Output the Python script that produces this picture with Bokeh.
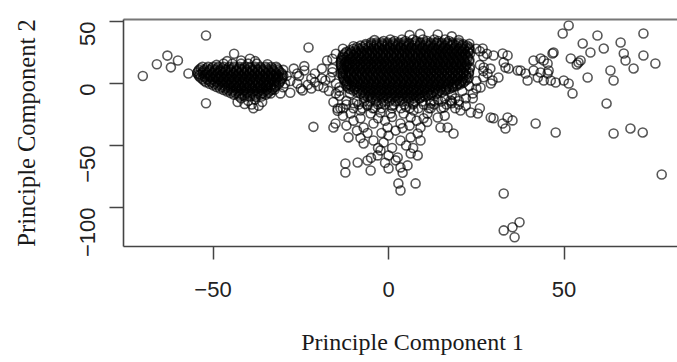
import math
from bokeh.plotting import figure
from bokeh.models import FixedTicker, LinearAxis, Range1d
from bokeh.embed import file_html
from bokeh.resources import INLINE

# ---- principal component scores, grouped by region of the score plot ----

# isolated scores left of the left group
left_tail_pc1 = [-70, -66, -63, -62, -60, -57, -52, -52, -44, -46, -42, -39.5, -38, -34.5, -49]
left_tail_pc2 = [6, 15.5, 22.5, 13, 18.5, 8, 38.7, -16, 24, 18, 18.5, 20, 18, 15.5, 15]

# dense left group: PC2 level -> PC1 scores on that level
left_group_rows = {
    16: [-47, -44.5, -42, -40, -37.5],
    13.5: [-53, -51.4, -50, -48.5, -47, -45.4, -44, -42.5, -41, -39.4, -38, -36.5, -35, -33.4, -32],
    12.25: [-53.5, -51.8, -50.3, -48.7, -47.2, -45.6, -44.1, -42.5, -41, -39.4, -37.9, -36.3, -34.8,
            -33.2, -31.7],
    11: [-54, -52.5, -51, -49.4, -48, -46.5, -45, -43.4, -42, -40.5, -39, -37.4, -36, -34.5, -33, -31.4],
    9.75: [-54.3, -52.8, -51.2, -49.7, -48.1, -46.6, -45, -43.5, -41.9, -40.4, -38.8, -37.3, -35.7,
           -34.2, -32.6, -31.1],
    8.5: [-54.5, -53, -51.6, -50, -48.5, -47, -45.4, -44, -42.5, -41, -39.4, -38, -36.5, -35, -33.4,
          -32, -30.5],
    7.25: [-54.2, -53.7, -52.1, -50.6, -49, -47.5, -45.9, -44.4, -42.8, -41.3, -39.7, -38.2, -36.6,
           -35.1, -33.5, -32, -30.3],
    6: [-54, -52.5, -51, -49.4, -48, -46.5, -45, -43.4, -42, -40.5, -39, -37.4, -36, -34.5, -33,
        -31.4, -30],
    4.75: [-53.6, -52.2, -50.7, -49.1, -47.6, -46, -44.5, -42.9, -41.4, -39.8, -38.3, -36.7, -35.2,
           -33.6, -32.1, -30.3],
    3.5: [-53, -51.6, -50, -48.5, -47, -45.4, -44, -42.5, -41, -39.4, -38, -36.5, -35, -33.4, -32, -30.5],
    2.25: [-52.5, -51, -49.5, -47.9, -46.4, -44.8, -43.3, -41.7, -40.2, -38.6, -37.1, -35.5, -34,
           -32.4, -30.8],
    1: [-52, -50.5, -49, -47.4, -46, -44.5, -43, -41.4, -40, -38.5, -37, -35.4, -34, -32.5, -31],
    -0.25: [-51, -49.6, -48.1, -46.5, -45, -43.4, -41.9, -40.3, -38.8, -37.2, -35.7, -34.1, -32.6, -31.3],
    -1.5: [-50, -48.6, -47, -45.5, -44, -42.4, -41, -39.5, -38, -36.4, -35, -33.5, -32],
    -2.75: [-49, -47.4, -45.9, -44.3, -42.8, -41.2, -39.7, -38.1, -36.6, -35, -33.5, -32.3],
    -4: [-48, -46.5, -45, -43.4, -42, -40.5, -39, -37.4, -36, -34.5, -33],
    -5.25: [-47, -45.6, -44.1, -42.5, -41, -39.4, -37.9, -36.3, -34.8, -33.4],
    -6.5: [-46, -44.5, -43, -41.4, -40, -38.5, -37, -35.4, -34],
    -7.75: [-45, -43.6, -42.1, -40.5, -39, -37.4, -35.9, -34.4],
    -9: [-44, -42.5, -41, -39.4, -38, -36.5, -35],
    -10.5: [-42.5, -41, -39.4, -37.8, -36.2],
}
left_lobe_pc1 = [-42, -40, -38, -39, -41, -37, -43, -36, -38.5]
left_lobe_pc2 = [-12, -14, -13, -17, -16.5, -18, -15, -15, -20]

# scores bridging the left group and the main group
bridge_pc1 = [-31.6, -30.8, -30, -28, -27, -26, -25, -24.5, -24, -22, -22, -22.8, -21.4, -19, -18.5,
              -17.5, -16.5, -15.7, -15, -15.7, -14.5, -14, -13.7, -13.7, -11.7, -34.5, -33.6, -29,
              -28, -26, -23, -21, -20, -19, -17, -16, -24, -30, -18, -21, -25.5, -29.5, -32.5]
bridge_pc2 = [4.8, -8, -3, -7.5, 12, 0, -4, -5.6, 10.5, 4, -4, 29, -35, 4, -3.2,
              18.5, 4.8, -35.5, -8, -15, -22, -3, -20, 8, 16, -1.6, -8, 6,
              2, 8, -1, 8, -2, 12, -6, 9, 14, 11, 2.4, 1, 6, 0, -5]

# dense main group: PC2 level -> PC1 scores on that level
main_group_rows = {
    35.5: [0.5, 3.8, 6.9, 9.8, 13, 16.1],
    34.25: [-1.4, 1.7, 4.8, 7.9, 11, 14.1, 17.2],
    33: [-5, -3.4, -2, -0.3, 1.2, 2.9, 4.3, 5.8, 7.5, 9, 10.6, 12, 13.7, 15.1, 16.8, 18.2, 20],
    31.75: [-6.5, -4.9, -3.4, -1.8, -0.3, 1.3, 2.8, 4.4, 5.9, 7.5, 9, 10.6, 12.1, 13.7, 15.2, 16.8,
            18.3, 19.9, 21.2],
    30.5: [-8, -6.6, -5, -3.5, -1.9, -0.4, 1.1, 2.6, 4.2, 5.6, 7.1, 8.8, 10.2, 11.7, 13.3, 14.8,
           16.2, 17.9, 19.3, 21, 22.4],
    29.25: [-9, -7.4, -5.9, -4.3, -2.8, -1.2, 0.3, 1.9, 3.4, 5, 6.5, 8.1, 9.6, 11.2, 12.7, 14.3,
            15.8, 17.4, 18.9, 20.5, 22, 23],
    28: [-10, -8.5, -7.1, -5.6, -4, -2.6, -1, 0.4, 2, 3.5, 4.9, 6.5, 8, 9.6, 11, 12.5, 14.1, 15.5,
         17, 18.6, 20.1, 21.5, 23],
    26.75: [-11, -9.4, -7.9, -6.3, -4.8, -3.2, -1.7, -0.1, 1.4, 3, 4.5, 6.1, 7.6, 9.2, 10.7, 12.3,
            13.8, 15.4, 16.9, 18.5, 20, 21.6, 23.1],
    25.5: [-12, -10.6, -9.1, -7.5, -6, -4.6, -3, -1.5, 0, 1.6, 3, 4.5, 6.1, 7.6, 9.1, 10.5, 12.2,
           13.6, 15.1, 16.7, 18.2, 19.6, 21.1, 22.7],
    24.25: [-12.4, -10.9, -9.3, -7.8, -6.2, -4.7, -3.1, -1.6, 0, 1.5, 3.1, 4.6, 6.2, 7.7, 9.3, 10.8,
            12.4, 13.9, 15.5, 17, 18.6, 20.1, 21.7, 23.2],
    23: [-13, -11.4, -10, -8.4, -6.9, -5.3, -3.8, -2.2, -0.8, 0.8, 2.3, 3.8, 5.3, 6.8, 8.4, 9.9,
         11.4, 12.9, 14.5, 15.9, 17.4, 19, 20.5, 22],
    21.75: [-13, -11.6, -10.1, -8.5, -7, -5.4, -3.9, -2.3, -0.8, 0.8, 2.3, 3.9, 5.4, 7, 8.5, 10.1,
            11.6, 13.2, 14.7, 16.3, 17.8, 19.4, 20.9, 22.5],
    20.5: [-13.3, -12, -10.5, -9, -7.6, -6, -4.5, -3, -1.4, 0, 1.5, 3.1, 4.6, 6, 7.7, 9.2, 10.6,
           12.1, 13.7, 15.2, 16.6, 18.2, 19.7, 21.2, 22.6],
    19.25: [-13.4, -12.6, -11.1, -9.5, -8, -6.4, -4.9, -3.3, -1.8, -0.2, 1.3, 2.9, 4.4, 6, 7.5, 9.1,
            10.6, 12.2, 13.7, 15.3, 16.8, 18.4, 19.9, 21.5, 23],
    18: [-13.5, -12, -10.3, -8.8, -7.2, -5.8, -4.2, -2.7, -1.2, 0.3, 1.9, 3.4, 4.9, 6.4, 7.9, 9.5,
         11, 12.4, 14, 15.5, 17, 18.5, 20, 21.6, 23],
    16.75: [-13.6, -12.3, -10.7, -9.2, -7.6, -6.1, -4.5, -3, -1.4, 0.1, 1.7, 3.2, 4.8, 6.3, 7.9, 9.4,
            11, 12.5, 14.1, 15.6, 17.2, 18.7, 20.3, 21.8],
    15.5: [-13.6, -12.6, -11.1, -9.6, -8, -6.5, -5, -3.4, -2, -0.5, 1.1, 2.6, 4.1, 5.7, 7.2, 8.7,
           10.2, 11.8, 13.2, 14.7, 16.3, 17.8, 19.3, 20.8, 22.3],
    14.25: [-13.5, -12, -10.5, -9, -7.4, -5.9, -4.3, -2.8, -1.2, 0.3, 1.9, 3.4, 5, 6.5, 8.1, 9.6,
            11.2, 12.7, 14.3, 15.8, 17.4, 18.9, 20.5, 22],
    13: [-13.4, -11.8, -10.3, -8.7, -7.3, -5.7, -4.2, -2.6, -1.1, 0.4, 1.9, 3.5, 5, 6.5, 8, 9.5,
         11.1, 12.6, 14.1, 15.6, 17.1, 18.7, 20.2, 21.7, 23.2],
    11.75: [-13.2, -12.6, -11, -9.5, -7.9, -6.4, -4.8, -3.3, -1.7, -0.2, 1.4, 2.9, 4.5, 6, 7.6, 9.1,
            10.7, 12.2, 13.8, 15.3, 16.9, 18.4, 20, 21.5, 23.1],
    10.5: [-13, -11.5, -10, -8.4, -6.9, -5.3, -3.9, -2.3, -0.8, 0.7, 2.2, 3.8, 5.3, 6.8, 8.3, 9.9,
           11.4, 12.9, 14.4, 15.9, 17.5, 19, 20.5, 22],
    9.25: [-13, -11.2, -9.7, -8.1, -6.6, -5, -3.5, -1.9, -0.4, 1.2, 2.7, 4.3, 5.8, 7.4, 8.9, 10.5,
           12, 13.6, 15.1, 16.7, 18.2, 19.8, 21.3, 22.9],
    8: [-13.2, -12.3, -10.8, -9.2, -7.7, -6.1, -4.6, -3.1, -1.5, 0, 1.5, 3, 4.6, 6.1, 7.6, 9.2,
        10.7, 12.2, 13.7, 15.3, 16.8, 18.3, 19.8, 21.4, 22.9],
    6.75: [-13, -12.1, -10.6, -9, -7.5, -5.9, -4.4, -2.8, -1.3, 0.3, 1.8, 3.4, 4.9, 6.5, 8, 9.6,
           11.1, 12.7, 14.2, 15.8, 17.3, 18.9, 20.4, 22],
    5.5: [-13, -11.5, -9.9, -8.4, -6.8, -5.3, -3.8, -2.2, -0.7, 0.8, 2.3, 3.9, 5.4, 6.9, 8.5, 10,
          11.5, 13, 14.6, 16.1, 17.6, 19.1, 20.7, 22.2],
    4.25: [-12.8, -11.3, -9.8, -8.2, -6.7, -5.1, -3.6, -2, -0.5, 1.1, 2.6, 4.2, 5.7, 7.3, 8.8, 10.4,
           11.9, 13.5, 15, 16.6, 18.1, 19.7, 21.2, 22.8],
    3: [-12.6, -11, -9.6, -8, -6.5, -5, -3.4, -1.9, -0.4, 1.2, 2.7, 4.2, 5.7, 7.3, 8.8, 10.3,
        11.9, 13.4, 14.9, 16.4, 18, 19.5, 21, 22.3],
    1.75: [-12.3, -11.7, -10.2, -8.6, -7.1, -5.5, -4, -2.4, -0.9, 0.7, 2.2, 3.8, 5.3, 6.9, 8.4, 10,
           11.5, 13.1, 14.6, 16.2, 17.7, 19.3, 20.8, 21.7],
    0.5: [-12, -10.4, -8.9, -7.3, -5.8, -4.3, -2.7, -1.2, 0.3, 1.9, 3.4, 4.9, 6.4, 8, 9.5, 11,
          12.6, 14.1, 15.6, 17.1, 18.7, 20.2, 21.3],
    -0.75: [-12, -11.2, -9.7, -8.1, -6.6, -5, -3.5, -1.9, -0.4, 1.2, 2.7, 4.3, 5.8, 7.4, 8.9, 10.5,
            12, 13.6, 15.1, 16.7, 18.2, 19.6, 20.3],
    -2: [-12, -10.6, -9.1, -7.6, -6, -4.5, -3, -1.5, 0.1, 1.6, 3.1, 4.6, 6.2, 7.7, 9.2, 10.8,
         12.3, 13.8, 15.4, 16.9, 18.4, 19.4],
    -3.25: [-11.5, -9.9, -8.4, -6.8, -5.3, -3.7, -2.2, -0.6, 0.9, 2.5, 4, 5.6, 7.1, 8.7, 10.2, 11.8,
            13.3, 14.9, 16.4, 18, 18.4],
    -4.5: [-11, -9.5, -8, -6.4, -4.9, -3.4, -1.8, -0.3, 1.2, 2.8, 4.3, 5.8, 7.3, 8.9, 10.4, 11.9,
           13.5, 15, 16.5, 17.3],
    -5.75: [-10, -8.6, -7.1, -5.5, -4, -2.4, -0.9, 0.7, 2.2, 3.8, 5.3, 6.9, 8.4, 10, 11.5, 13.1,
            14.6, 16.3],
    -7: [-9, -7.4, -5.8, -4.3, -2.8, -1.2, 0.3, 1.8, 3.4, 4.9, 6.4, 8, 9.5, 11, 12.6, 14, 15.2],
    -8.25: [-8, -6.6, -5.1, -3.5, -2, -0.4, 1.1, 2.7, 4.2, 5.8, 7.3, 8.9, 10.4, 12, 13.6],
    -9.5: [-7, -5.4, -3.9, -2.4, -0.8, 0.7, 2.2, 3.8, 5.3, 6.8, 8.4, 9.9, 11.3, 12.2],
    -10.75: [-6, -4.6, -3.1, -1.5, 0, 1.6, 3.1, 4.7, 6.2, 7.8, 9.3, 10.5],
    -12: [-5, -3.5, -1.9, -0.4, 1.1, 2.7, 4.2, 5.7, 7.2, 8.8],
    -14.5: [-9, -7, -5.2, -3.5, -1.5, 0.2, 2, 4, 5.8, 7.5, 9.5, 12, 15, 18],
    -17: [-12, -8.5, -6, -3, -1, 1.5, 4.5, 7, 10, 13, 16.5, 20],
    -20: [-13, -10, -7.5, -4.5, -2, 1, 3.5, 6, 8.5, 11.5, 15],
}

# scores along the rim of the main group
rim_pc1 = [-16, -15, -10, -4, 6, 9, 14, 18, 20, 23, 26, 27, 26, 27, 25, 23, 21, 18, 14, -14,
           -15, 25, 28, 29, 27, 25, 24, 22, 19, -16, -13]
rim_pc2 = [12, 24, 30, 35, 39, 40, 39.5, 38, 35, 32, 26, 22, 15, 10, 2, -2, -6, -9, -13, -6,
           0, 28, 24, 12, 5, -4, -8, -12, -12, 20, 28]

# scores trailing downward from the main group
plume_pc1 = [-14.5, -15.1, -11.4, -12.3, -12.3, -8.8, -6, -5.1, -2.3, 0, 2.6, 3.4, 6.3, 8.3, 2.8,
             3.4, 7.7, -7.1, -4.3, -1.4, 3.4, 6.3, 8.3, 9.1, 0, -3.1, 5.4, -7.1, -4.3, -0.3, 3.4,
             6.3, 9.1, -10.8, -8, -5.1, -2.3, 0.6, 4.3, 7.1, 11.1, 14, 14.8, 12, 15.7,
             -14, -12, -13, -10, -8, -6, -4, -2, 1, 3, 5, -3, -1, 1, 2, -2, 0, 4, 6, 8, 10, 12,
             -6, -8, -3, 1, 5, 7, -5, 2, 4, -1, -9, -12, 11, 13, 16, 18, 20, 22, 24, 26, -10,
             -7, -11, 9, 7]
plume_pc2 = [-20.2, -32.3, -43.5, -64.5, -71.8, -63.7, -62.1, -70.2, -54, -68.5, -59.7, -67.7,
             -56.5, -58, -80.6, -86.3, -80.6, -48.4, -46, -47.6, -46, -43.5, -40.3, -46, -58, -58,
             -66.1, -35.5, -32.3, -35.5, -32.3, -27.4, -35.5, -24.2, -21.8, -24.2, -23.4, -24.2,
             -24.2, -21.8, -24.2, -27.4, -35.5, -16.1, -19.4,
             -10, -14, -26, -30, -28, -18, -20, -16, -18, -14, -19, -28, -30, -27, -38, -40, -42,
             -36, -34, -30, -28, -20, -40, -44, -52, -52, -50, -52, -60, -62, -72, -64, -38, -34,
             -31, -14, -12, -16, -14, -18, -12, -20, -16, -12, -8, -12, -16]

# scores spreading to the right of the main group
right_pc1 = [51.3, 49.6, 59.5, 55.3, 61.3, 57.5, 66.1, 67, 67.5, 69.8, 72.6, 72.6, 76, 63.2, 64.1,
             56.7, 54.1, 54.7, 53.6, 51.9, 51.3, 52.4, 49.9, 47, 44.2, 45.6, 46.2, 44.2, 41.3,
             39.6, 37.6, 33.9, 33.3, 31.3, 29.6, 27.1, 26.8, 29.9, 32.5, 32.8, 34.2, 36.8, 39,
             28.2, 29.1, 26.2, 41.3, 43.3, 45.3, 46.7, 43.3, 45.3, 47.6, 42.5]
right_pc2 = [46.8, 40.3, 38.7, 32.3, 28.2, 25, 33, 24.2, 18.5, 12.1, 40.3, 22.6, 16.1, 10.5, 2.4,
             4.8, 16.9, 18.5, 15.3, 20.2, 0, -8, 2.4, 25, 18.5, 10.5, 2.4, 2.4, 10.5,
             2.4, 10.5, 22.6, 12.9, 4.8, 2.4, 12.9, 28.2, 22.6, 24.2, 16.9, 12.1, 10.5, 8.1,
             8.1, 0, -3.2, 18.5, 20.2, 16.1, 24.2, 8.9, 8.1, 0.8, 4.8]

# lower-right branch and far outliers
outlier_pc1 = [20.5, 23.4, 25.4, 29.1, 32.5, 33.3, 35.3, 33.9, 41.9, 47.6, 18.5, 16.8, 62.1, 64.1,
               68.9, 72.4, 77.8, 32.8, 32.8, 35.3, 37.3, 35.9, 17.7, 19, 16, 29.9]
outlier_pc2 = [-21.8, -23.4, -24.2, -27.4, -32.3, -36.3, -29.8, -27.4, -32.3, -39.5, -40.3, -35.5,
               -16.1, -40.3, -36.3, -39.5, -73.4, -88.7, -118.5, -116, -112, -124, -13.7, -20, -26,
               -28]

x_ticks = [-50, 0, 50]
y_ticks = [-100, -50, 0, 50]
x_title = "Principle Component 1"
y_title = "Principle Component 2"

# ---- collect every score ----
pc1, pc2 = [], []
for xs, ys in [(left_tail_pc1, left_tail_pc2), (left_lobe_pc1, left_lobe_pc2),
               (bridge_pc1, bridge_pc2), (rim_pc1, rim_pc2), (plume_pc1, plume_pc2),
               (right_pc1, right_pc2), (outlier_pc1, outlier_pc2)]:
    pc1.extend(xs)
    pc2.extend(ys)
for rows in (left_group_rows, main_group_rows):
    for level, xs in rows.items():
        pc1.extend(xs)
        pc2.extend([level] * len(xs))

# the plotting region runs past the right edge, so its x title sits right of the box centre;
# four no-break spaces in front of the text move it over by that amount
x_label_text = "\u00a0" * 4 + x_title

p = figure(width=677, height=362, output_backend="svg", toolbar_location=None,
           x_range=Range1d(-75.5, 82.3), y_range=Range1d(-131.5, 51.6),
           min_border_left=123, min_border_right=0, min_border_top=19, min_border_bottom=116,
           x_axis_label=x_label_text, y_axis_label=y_title)

p.background_fill_color = "white"
p.border_fill_color = "white"
p.outline_line_color = None
p.grid.visible = False

p.scatter(pc1, pc2, marker="circle", size=9, fill_color=None,
          line_color="black", line_alpha=0.66, line_width=1.6)

axis_color = "#444444"
for ax, ticks, tick_len in ((p.xaxis[0], x_ticks, 13), (p.yaxis[0], y_ticks, 14)):
    ax.ticker = FixedTicker(ticks=ticks)
    ax.minor_tick_line_color = None
    ax.major_tick_in = 0
    ax.major_tick_out = tick_len
    ax.major_tick_line_color = axis_color
    ax.major_tick_line_width = 1.5
    ax.axis_line_color = axis_color
    ax.axis_line_width = 1.6
    ax.major_label_text_font = "Liberation Sans"
    ax.major_label_text_font_size = "22px"
    ax.major_label_text_color = "#222222"
    ax.axis_label_text_font = "Liberation Serif"
    ax.axis_label_text_font_style = "normal"
    ax.axis_label_text_color = "#1a1a1a"

p.xaxis.axis_label_text_font_size = "24px"
p.yaxis.axis_label_text_font_size = "24.5px"
p.xaxis.major_label_standoff = 22
p.xaxis.axis_label_standoff = 29
p.yaxis.major_label_orientation = math.pi / 2
p.yaxis.major_label_standoff = 22
p.yaxis.axis_label_standoff = 30

# top edge of the plotting box
top = LinearAxis(ticker=FixedTicker(ticks=[]), major_tick_out=0, major_tick_in=0,
                 minor_tick_out=0, minor_tick_in=0, major_label_text_font_size="0px",
                 axis_line_color="#777777", axis_line_width=1.8)
p.add_layout(top, "above")

open("out.html", "w").write(file_html(p, INLINE))
